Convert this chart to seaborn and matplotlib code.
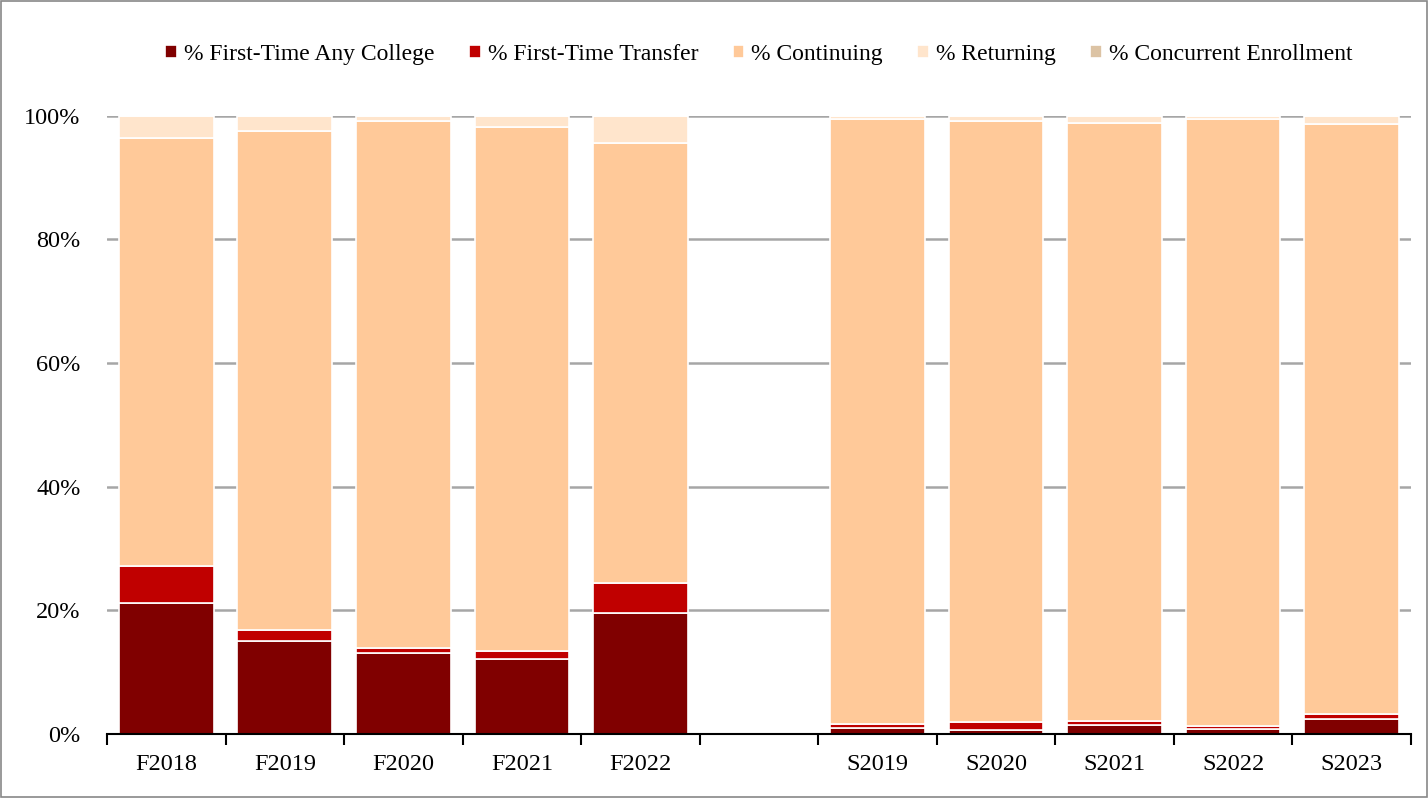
import numpy as np
import pandas as pd
import seaborn as sns
import matplotlib.pyplot as plt
from matplotlib.patches import Rectangle

# terms (blank slot separates fall and spring)
terms = ["F2018", "F2019", "F2020", "F2021", "F2022", "", "S2019", "S2020", "S2021", "S2022", "S2023"]

first_time = [21.2, 15.0, 13.1, 12.1, 19.6, 0, 1.0, 0.6, 1.5, 0.9, 2.4]
transfer = [6.0, 1.8, 0.8, 1.3, 4.8, 0, 0.7, 1.3, 0.7, 0.4, 0.9]
continuing = [69.2, 80.8, 85.3, 84.8, 71.2, 0, 97.8, 97.3, 96.6, 98.2, 95.3]
returning = [3.6, 2.4, 0.8, 1.8, 4.4, 0, 0.5, 0.8, 1.2, 0.5, 1.4]
concurrent = [0, 0, 0, 0, 0, 0, 0, 0, 0, 0, 0]

series = ["% First-Time Any College", "% First-Time Transfer", "% Continuing",
          "% Returning", "% Concurrent Enrollment"]
colors = ["#800000", "#c00000", "#ffc999", "#ffe5cc", "#dcc3a4"]

df = pd.DataFrame({"term": terms, series[0]: first_time, series[1]: transfer,
                   series[2]: continuing, series[3]: returning, series[4]: concurrent})

sns.set_style("white")
plt.rcParams["font.family"] = ["Liberation Serif", "DejaVu Serif"]
plt.rcParams["text.color"] = "black"
plt.rcParams["xtick.color"] = "black"
plt.rcParams["ytick.color"] = "black"

fig, ax = plt.subplots(figsize=(14.28, 7.98), dpi=100)
fig.subplots_adjust(left=0.075, right=0.988, top=0.855, bottom=0.08)

bottom = np.zeros(len(terms))
for name, col in zip(series, colors):
    vals = df[name].values / 100
    sns.barplot(x=df["term"], y=vals, bottom=bottom, color=col, width=0.8, saturation=1,
                edgecolor="white", linewidth=1.2, label=name, ax=ax, zorder=3)
    bottom = bottom + vals

ax.set_ylim(0, 1)
ax.set_xlim(-0.5, len(terms) - 0.5)
ax.set_yticks(np.arange(0, 1.01, 0.2))
ax.set_yticklabels([f"{int(v*100)}%" for v in np.arange(0, 1.01, 0.2)], fontsize=17.5)
ax.yaxis.grid(True, color="#a6a6a6", linewidth=1.8, zorder=0)
ax.set_axisbelow(True)
ax.set_xlabel("")
ax.set_ylabel("")
ax.tick_params(axis="x", length=0, labelsize=17.5, pad=14, labelcolor="black")
ax.tick_params(axis="y", length=0, pad=19, labelcolor="black")
ax.set_xticks(np.arange(-0.5, len(terms)), minor=True)
ax.tick_params(axis="x", which="minor", bottom=True, length=8, width=1.5,
               color="black", direction="out")
for s in ["top", "right", "left"]:
    ax.spines[s].set_visible(False)
ax.spines["bottom"].set_color("black")
ax.spines["bottom"].set_linewidth(1.5)
ax.spines["bottom"].set_zorder(5)

handles, labels = ax.get_legend_handles_labels()
ax.legend(handles[:5], labels[:5], loc="center", bbox_to_anchor=(0.5, 1.099), ncol=5,
          frameon=False, fontsize=17, handlelength=0.5, handleheight=0.5,
          handletextpad=0.3, columnspacing=1.45, labelcolor="black")

fig.patches.append(Rectangle((0.001, 0.001), 0.998, 0.998, transform=fig.transFigure,
                             fill=False, edgecolor="#888888", linewidth=1.2))

plt.savefig("out.png", dpi=100)
